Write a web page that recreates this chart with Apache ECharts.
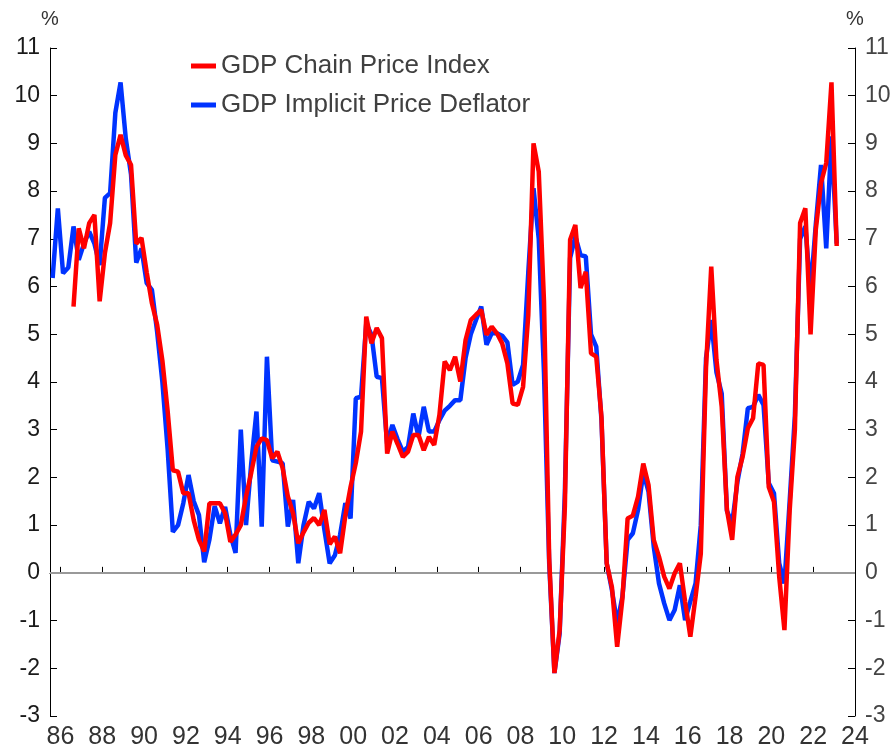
<!DOCTYPE html>
<html><head><meta charset="utf-8">
<script src="https://cdn.jsdelivr.net/npm/echarts@6/dist/echarts.min.js"></script>
<style>html,body{margin:0;padding:0;background:#fff}#c{width:894px;height:751px}</style>
</head><body><div id="c"></div>
<script>
// Quarterly observations, first quarter plotted at 1985 Q3 (mid-quarter)
const firstQuarterTime = 1985.625;
const quarterStep = 0.25;
const deflator = [6.18,7.64,6.28,6.4,7.26,6.56,6.9,7.15,6.9,6.45,7.86,7.96,9.64,10.28,9.1,8.35,6.5,6.8,6.07,5.93,
5.05,4.0,2.6,0.86,1.0,1.46,2.05,1.5,1.21,0.22,0.7,1.4,1.04,1.38,0.8,0.42,3.0,1.0,2.3,3.38,
0.97,4.53,2.36,2.33,2.3,0.97,1.53,0.2,1.0,1.49,1.35,1.67,0.9,0.2,0.37,0.8,1.46,1.14,3.66,3.69,
5.23,4.99,4.11,4.08,2.7,3.1,2.8,2.54,2.64,3.34,2.85,3.48,2.96,2.96,3.2,3.4,3.5,3.62,3.62,4.5,
5.0,5.3,5.58,4.78,5.02,5.02,4.97,4.83,3.94,4.01,4.36,6.3,8.06,7.0,4.2,0.2,-2.1,-1.27,1.7,6.6,
7.05,6.66,6.63,5.0,4.74,3.2,0.2,-0.36,-1.06,-0.5,0.69,0.83,1.32,2.1,1.7,0.55,-0.22,-0.64,-0.99,-0.78,
-0.26,-0.99,-0.6,-0.22,1.0,4.5,5.3,4.2,3.76,1.3,1.04,1.9,2.5,3.45,3.48,3.73,3.52,1.88,1.67,0.2,
-0.22,1.5,3.3,7.0,7.26,5.9,7.3,8.55,6.8,9.15,6.9];
const chainIndex = [null,null,null,null,5.58,7.22,6.8,7.33,7.5,5.69,6.7,7.33,8.76,9.18,8.75,8.55,6.9,7.02,6.3,5.65,
5.2,4.45,3.4,2.15,2.12,1.67,1.67,1.1,0.69,0.45,1.46,1.46,1.46,1.25,0.65,0.8,1.0,1.6,2.1,2.64,
2.82,2.78,2.4,2.54,2.2,1.6,1.25,0.62,0.85,1.05,1.15,1.0,1.32,0.6,0.76,0.41,1.2,1.8,2.3,2.96,
5.37,4.81,5.13,4.92,2.5,2.96,2.7,2.43,2.54,2.89,2.89,2.57,2.85,2.68,3.31,4.43,4.25,4.53,4.01,4.88,
5.3,5.41,5.51,4.99,5.16,5.02,4.81,4.39,3.55,3.52,3.9,5.4,9.0,8.41,5.7,0.3,-2.1,-1.2,1.4,6.98,
7.29,5.97,6.31,4.6,4.53,3.27,0.2,-0.3,-1.55,-0.55,1.14,1.2,1.6,2.29,1.84,0.69,0.34,-0.08,-0.33,-0.01,
0.2,-0.6,-1.34,-0.5,0.4,4.3,6.42,4.46,3.48,1.32,0.69,2.01,2.43,3.03,3.24,4.39,4.36,1.8,1.49,-0.08,
-1.2,1.3,3.0,7.33,7.64,5.0,7.19,8.17,8.59,10.28,6.85];
const xTickYears = [1986,1988,1990,1992,1994,1996,1998,2000,2002,2004,2006,2008,2010,2012,2014,2016,2018,2020,2022,2024];
const seriesNames = ['GDP Chain Price Index','GDP Implicit Price Deflator'];

const toPairs = arr => arr.map((v,i)=>[firstQuarterTime + quarterStep*i, v]);

const chart = echarts.init(document.getElementById('c'));
const yAxisBase = {
  type:'value', min:-3, max:11, interval:1,
  axisLine:{show:true, lineStyle:{color:'#000', width:1}},
  axisTick:{show:true, inside:true, length:7, lineStyle:{color:'#000'}},
  splitLine:{show:false},
  name:'%', nameLocation:'end', nameGap:19,
  nameTextStyle:{fontSize:20, color:'#333', fontFamily:'Liberation Sans', align:'center'}
};
chart.setOption({
  animation:false,
  backgroundColor:'#fff',
  grid:{left:50, right:39, top:48, bottom:35},
  legend:{
    data:seriesNames, orient:'vertical', left:186, top:46,
    icon:'rect', itemWidth:25, itemHeight:5, itemGap:9,
    textStyle:{fontSize:26, color:'#404040', fontFamily:'Liberation Sans', lineHeight:30}
  },
  xAxis:{
    type:'value', min:1985.5, max:2024,
    axisLine:{show:true, lineStyle:{color:'#000', width:1}},
    axisTick:{show:true, inside:true, length:6, customValues:xTickYears, lineStyle:{color:'#000'}},
    axisLabel:{customValues:xTickYears, fontSize:25, color:'#333', margin:9,
      fontFamily:'Liberation Sans Narrow, Liberation Sans',
      formatter:v=>String(Math.round(v)%100).padStart(2,'0')},
    splitLine:{show:false}
  },
  yAxis:[
    Object.assign({}, yAxisBase, {position:'left',
      axisLabel:{fontSize:23, color:'#1a1a1a', margin:10, fontFamily:'Liberation Sans'}}),
    Object.assign({}, yAxisBase, {position:'right',
      axisLabel:{fontSize:23, color:'#444', margin:10, fontFamily:'Liberation Sans'}})
  ],
  series:[
    {name:seriesNames[1], type:'line', data:toPairs(deflator), showSymbol:false, symbol:'none',
     lineStyle:{color:'#0033ff', width:4.5}, itemStyle:{color:'#0033ff'}, z:2,
     markLine:{silent:true, symbol:'none', label:{show:false}, animation:false,
       lineStyle:{color:'#999', width:2, type:'solid'}, data:[{yAxis:0}], z:1}},
    {name:seriesNames[0], type:'line', data:toPairs(chainIndex), showSymbol:false, symbol:'none',
     lineStyle:{color:'#ff0000', width:4.5}, itemStyle:{color:'#ff0000'}, z:3}
  ]
});
</script></body></html>
